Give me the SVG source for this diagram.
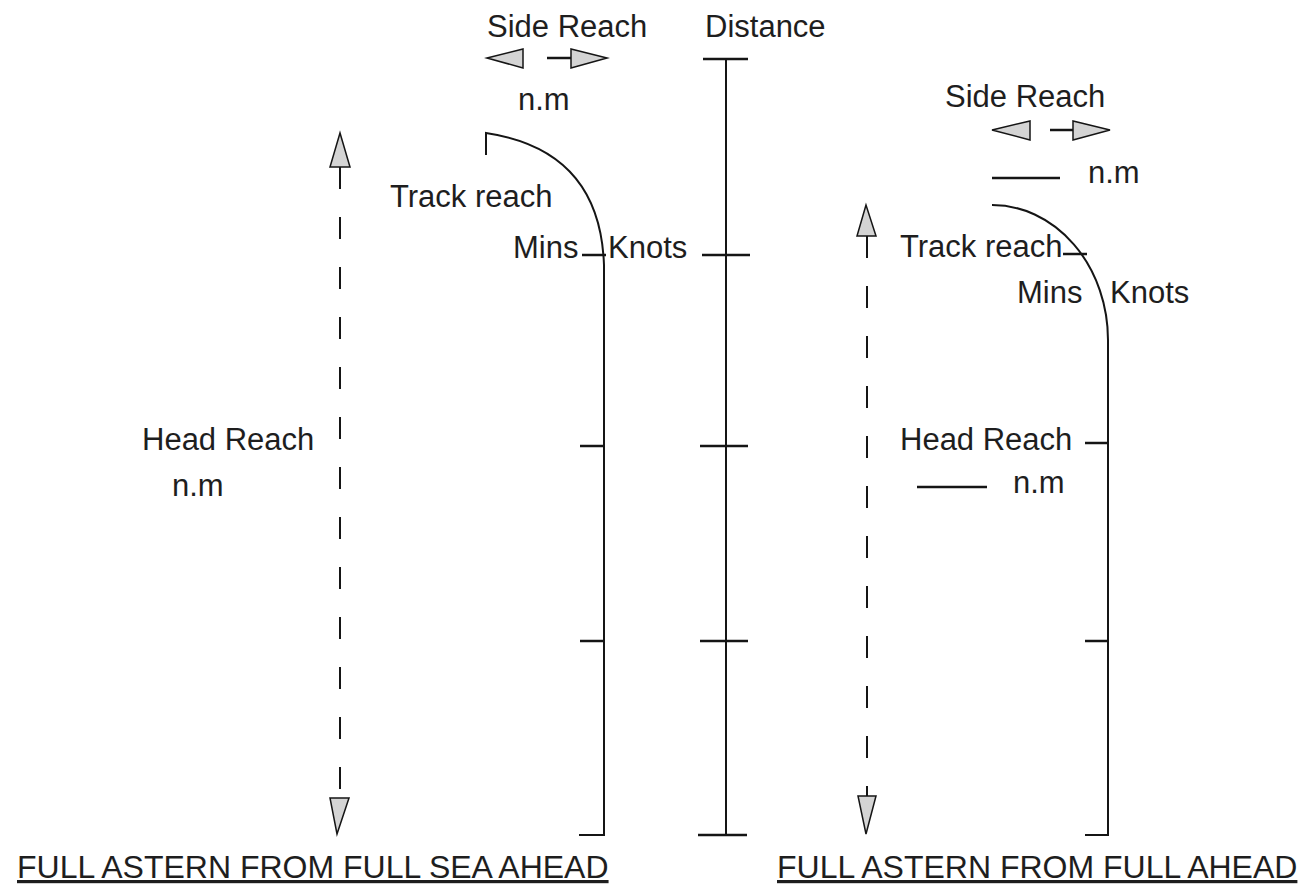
<svg xmlns="http://www.w3.org/2000/svg" width="1316" height="893" viewBox="0 0 1316 893">
<defs>
<style>
.t{font-family:"Liberation Sans",Arial,sans-serif;font-size:31px;fill:#1e1e1e}
.title{font-family:"Liberation Sans",Arial,sans-serif;font-size:32px;fill:#1e1e1e;text-decoration:underline}
.ln{stroke:#151515;stroke-width:2;fill:none}
.tk{stroke:#151515;stroke-width:2.5;fill:none}
.dash{stroke:#151515;stroke-width:2;fill:none;stroke-dasharray:22 28}
.ah{fill:#d4d4d4;stroke:#151515;stroke-width:1.5;stroke-linejoin:miter}
</style>
</defs>
<rect width="1316" height="893" fill="#ffffff"/>

<g id="left-diagram">
  <g id="left-side-reach">
    <text class="t" x="487" y="37">Side Reach</text>
    <polygon class="ah" points="487,58 523,49 523,68"/>
    <line class="tk" x1="547" y1="58" x2="571" y2="58"/>
    <polygon class="ah" points="607,58 571,49 571,68"/>
    <text class="t" x="518" y="110">n.m</text>
  </g>
  <g id="left-track">
    <path class="ln" d="M486,155 L486,133 Q600,150 604,265 L604,835 L579,835"/>
    <line class="tk" x1="582" y1="255" x2="606" y2="255"/>
    <line class="tk" x1="580" y1="446" x2="604" y2="446"/>
    <line class="tk" x1="580" y1="641" x2="604" y2="641"/>
    <text class="t" x="390" y="207">Track reach</text>
    <text class="t" x="513" y="258">Mins</text>
    <text class="t" x="608" y="258">Knots</text>
  </g>
  <g id="left-head-reach">
    <text class="t" x="142" y="450">Head Reach</text>
    <text class="t" x="172" y="496">n.m</text>
  </g>
  <g id="left-title">
    <text class="title" x="17" y="878">FULL ASTERN FROM FULL SEA AHEAD</text>
  </g>
</g>

<g id="distance-scale">
  <text class="t" x="705" y="37">Distance</text>
  <line class="ln" x1="726" y1="59" x2="726" y2="835"/>
  <line class="tk" x1="703" y1="59" x2="748" y2="59"/>
  <line class="tk" x1="702" y1="255" x2="750" y2="255"/>
  <line class="tk" x1="700" y1="446" x2="748" y2="446"/>
  <line class="tk" x1="700" y1="641" x2="748" y2="641"/>
  <line class="tk" x1="698" y1="835" x2="747" y2="835"/>
</g>

<g id="right-diagram">
  <g id="right-side-reach">
    <text class="t" x="945" y="107">Side Reach</text>
    <polygon class="ah" points="992,130 1030,121 1030,140"/>
    <line class="tk" x1="1050" y1="130" x2="1073" y2="130"/>
    <polygon class="ah" points="1110,130 1073,121 1073,140"/>
    <line class="tk" x1="992" y1="178" x2="1060" y2="178"/>
    <text class="t" x="1088" y="183">n.m</text>
  </g>
  <g id="right-track">
    <path class="ln" d="M992,205 A116,135 0 0 1 1108,340 L1108,835 L1085,835"/>
    <line class="tk" x1="1063" y1="254" x2="1087" y2="254"/>
    <line class="tk" x1="1085" y1="443" x2="1108" y2="443"/>
    <line class="tk" x1="1085" y1="641" x2="1108" y2="641"/>
    <text class="t" x="900" y="257">Track reach</text>
    <text class="t" x="1017" y="303">Mins</text>
    <text class="t" x="1110" y="303">Knots</text>
  </g>
  <g id="right-head-reach">
    <text class="t" x="900" y="450">Head Reach</text>
    <line class="tk" x1="917" y1="487" x2="987" y2="487"/>
    <text class="t" x="1013" y="493">n.m</text>
  </g>
  <g id="right-title">
    <text class="title" x="777" y="878">FULL ASTERN FROM FULL AHEAD</text>
  </g>
</g>

<g id="connectors">
  <g id="left-head-reach-arrow">
    <line class="dash" x1="340" y1="167" x2="340" y2="798"/>
    <polygon class="ah" points="340,133 330,167 350,167"/>
    <polygon class="ah" points="330,798 349,798 337,834"/>
  </g>
  <g id="right-head-reach-arrow">
    <line class="dash" x1="867" y1="236" x2="867" y2="796"/>
    <polygon class="ah" points="866,205 857,236 876,236"/>
    <polygon class="ah" points="858,796 876,796 866,834"/>
  </g>
</g>
</svg>
